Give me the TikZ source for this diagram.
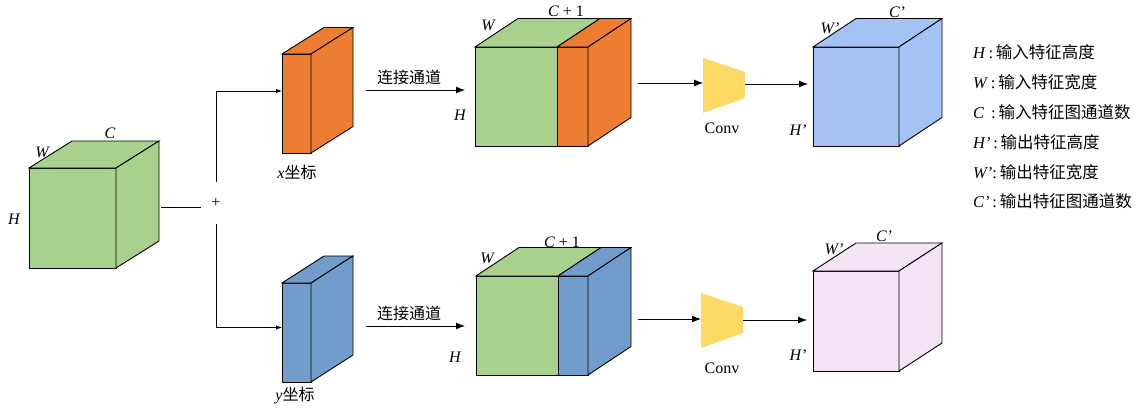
\documentclass[tikz,border=0pt]{standalone}
\usepackage{fontspec}
\setmainfont{Liberation Serif}
\newfontfamily\cjk{Noto Sans CJK SC}
\usetikzlibrary{arrows.meta}

\definecolor{featgreen}{HTML}{A9D18E}
\definecolor{xorange}{HTML}{ED7D31}
\definecolor{yblue}{HTML}{729CCB}
\definecolor{outblue}{HTML}{A4C2F4}
\definecolor{outpink}{HTML}{F5E3F6}
\definecolor{convgold}{HTML}{FFD966}

\tikzset{
  edge/.style={draw=black, line width=0.9pt, line join=miter},
  face/.style={edge, rectangle, inner sep=0pt, outer sep=0pt},
  link/.style={line width=0.9pt},
  arr/.style={link, -{Latex[length=9pt,width=7pt]}},
  smallarr/.style={link, -{Latex[length=6pt,width=4.5pt]}},
  lbl/.style={font=\fontsize{16}{18}\selectfont\itshape, inner sep=0pt},
  txt/.style={font=\fontsize{16}{18}\selectfont, inner sep=0pt},
  cn/.style={font=\fontsize{16}{18}\selectfont\cjk, inner sep=0pt},
  legend/.style={font=\fontsize{16.5}{18}\selectfont, inner sep=0pt, anchor=west},
}

% cuboid: name, x, y (front top-left), width, height, depth dx, depth dy, colour
\newcommand{\drawcube}[8]{%
  \node[face, fill=#8, minimum width=#4pt, minimum height=#5pt, anchor=north west] (#1) at (#2,#3) {};
  \draw[edge, fill=#8] (#1.north west) -- ++(#6pt,#7pt) -- ++(#4pt,0pt) -- (#1.north east) -- cycle;
  \draw[edge, fill=#8] (#1.north east) -- ++(#6pt,#7pt) -- ++(0pt,-#5pt) -- (#1.south east) -- cycle;
}

% feature block with one extra channel: name, x, y, width1, width2, height, colour1, colour2
\newcommand{\drawcat}[8]{%
  \node[face, fill=#7, minimum width=#4pt, minimum height=#6pt, anchor=north west] (#1) at (#2,#3) {};
  \node[face, fill=#8, minimum width=#5pt, minimum height=#6pt, anchor=north west] (#1-b) at (#1.north east) {};
  \draw[edge, fill=#7] (#1.north west) -- ++(43pt,28.5pt) -- ++(#4pt,0pt) -- (#1.north east) -- cycle;
  \draw[edge, fill=#8] (#1.north east) -- ++(43pt,28.5pt) -- ++(#5pt,0pt) -- (#1-b.north east) -- cycle;
  \draw[edge, fill=#8] (#1-b.north east) -- ++(43pt,28.5pt) -- ++(0pt,-#6pt) -- (#1-b.south east) -- cycle;
}

% convolution trapezium: name, x, y (top-left corner)
\newcommand{\drawconv}[3]{%
  \fill[convgold] (#2,#3) -- (#2+42,#3+14) -- (#2+42,#3+40) -- (#2,#3+55) -- cycle;
  \node[inner sep=0pt, outer sep=0pt, minimum width=42pt, minimum height=55pt, anchor=north west] (#1) at (#2,#3) {};
}

\begin{document}
\begin{tikzpicture}[x=1pt, y=-1pt]
\useasboundingbox (0,0) rectangle (1137,407);

% input feature map
\drawcube{in}{29}{168}{87}{100}{43}{27}{featgreen}
\node[lbl] (inC) at (110,133) {C};
\node[lbl] (inW) at (42,152) {W};
\node[lbl] (inH) at (14,219) {H};

% split point
\coordinate (inR) at (161,207);
\node[inner sep=0pt, minimum width=30pt, minimum height=42pt] (plus) at (216,203) {\raisebox{-3pt}{\fontsize{16}{18}\selectfont +}};
\draw[link] (inR) -- (inR -| plus.west);

% coordinate slabs
\drawcube{xs}{282}{54}{29}{99}{42}{26.5}{xorange}
\drawcube{ys}{282}{283}{29}{99}{42}{27}{yblue}
\node[txt] (xsl) at (297,172) {\textit{x}{\cjk 坐标}};
\node[txt] (ysl) at (295,395) {\textit{y}{\cjk 坐标}};
\draw[smallarr] (plus.north) |- ([yshift=12.5pt]xs.west);
\draw[smallarr] (plus.south) |- ([yshift=5pt]ys.west);

% concatenation arrows
\coordinate (cs1) at (366,90);
\coordinate (ce1) at (465,90);
\draw[arr] (cs1) -- (ce1);
\node[cn] (cat1l) at (409,77) {连接通道};
\coordinate (cs2) at (366,326);
\coordinate (ce2) at (465,326);
\draw[arr] (cs2) -- (ce2);
\node[cn] (cat2l) at (409,313) {连接通道};

% concatenated blocks
\drawcat{cx}{475}{47}{82}{31}{99}{featgreen}{xorange}
\node[lbl] (cxH) at (460,115) {H};
\node[lbl] (cxW) at (488,25) {W};
\node[txt] (cxC) at (566,11) {\textit{C} + 1};

\drawcat{cy}{476}{276}{82}{30}{99}{featgreen}{yblue}
\node[lbl] (cyH) at (455,357) {H};
\node[lbl] (cyW) at (487,258) {W};
\node[txt] (cyC) at (562,242) {\textit{C} + 1};

% convolutions
\drawconv{conv1}{703}{58}
\drawconv{conv2}{701}{293}
\node[txt] (conv1l) at (722,128) {Conv};
\node[txt] (conv2l) at (722,368) {Conv};

\coordinate (cxR) at (638,83);
\draw[arr] (cxR) -- (cxR -| conv1.west);
\coordinate (cyR) at (638,319);
\draw[arr] (cyR) -- (cyR -| conv2.west);

% output feature maps
\drawcube{ox}{813}{47}{86}{99}{43}{28.5}{outblue}
\drawcube{oy}{813}{271}{86}{100}{43}{28}{outpink}
\node[lbl] (oxW) at (830,28) {W’};
\node[lbl] (oxC) at (897,12) {C’};
\node[lbl] (oxH) at (798,130) {H’};
\node[lbl] (oyW) at (834,249) {W’};
\node[lbl] (oyC) at (884,236) {C’};
\node[lbl] (oyH) at (798,355) {H’};

\coordinate (oxIn) at (808,84);
\draw[arr] (oxIn -| conv1.east) -- (oxIn);
\coordinate (oyIn) at (807,320);
\draw[arr] (oyIn -| conv2.east) -- (oyIn);

% legend
\node[legend] (lg1) at (973,52)  {\textit{H}\,:\,{\cjk 输入特征高度}};
\node[legend] (lg2) at (973,82)  {\textit{W}\,:\,{\cjk 输入特征宽度}};
\node[legend] (lg3) at (973,112) {\textit{C}\, :\,{\cjk 输入特征图通道数}};
\node[legend] (lg4) at (973,142) {\textit{H’}\,:\,{\cjk 输出特征高度}};
\node[legend] (lg5) at (973,172) {\textit{W’}:\,{\cjk 输出特征宽度}};
\node[legend] (lg6) at (973,201) {\textit{C’}\,:\,{\cjk 输出特征图通道数}};
\end{tikzpicture}
\end{document}
